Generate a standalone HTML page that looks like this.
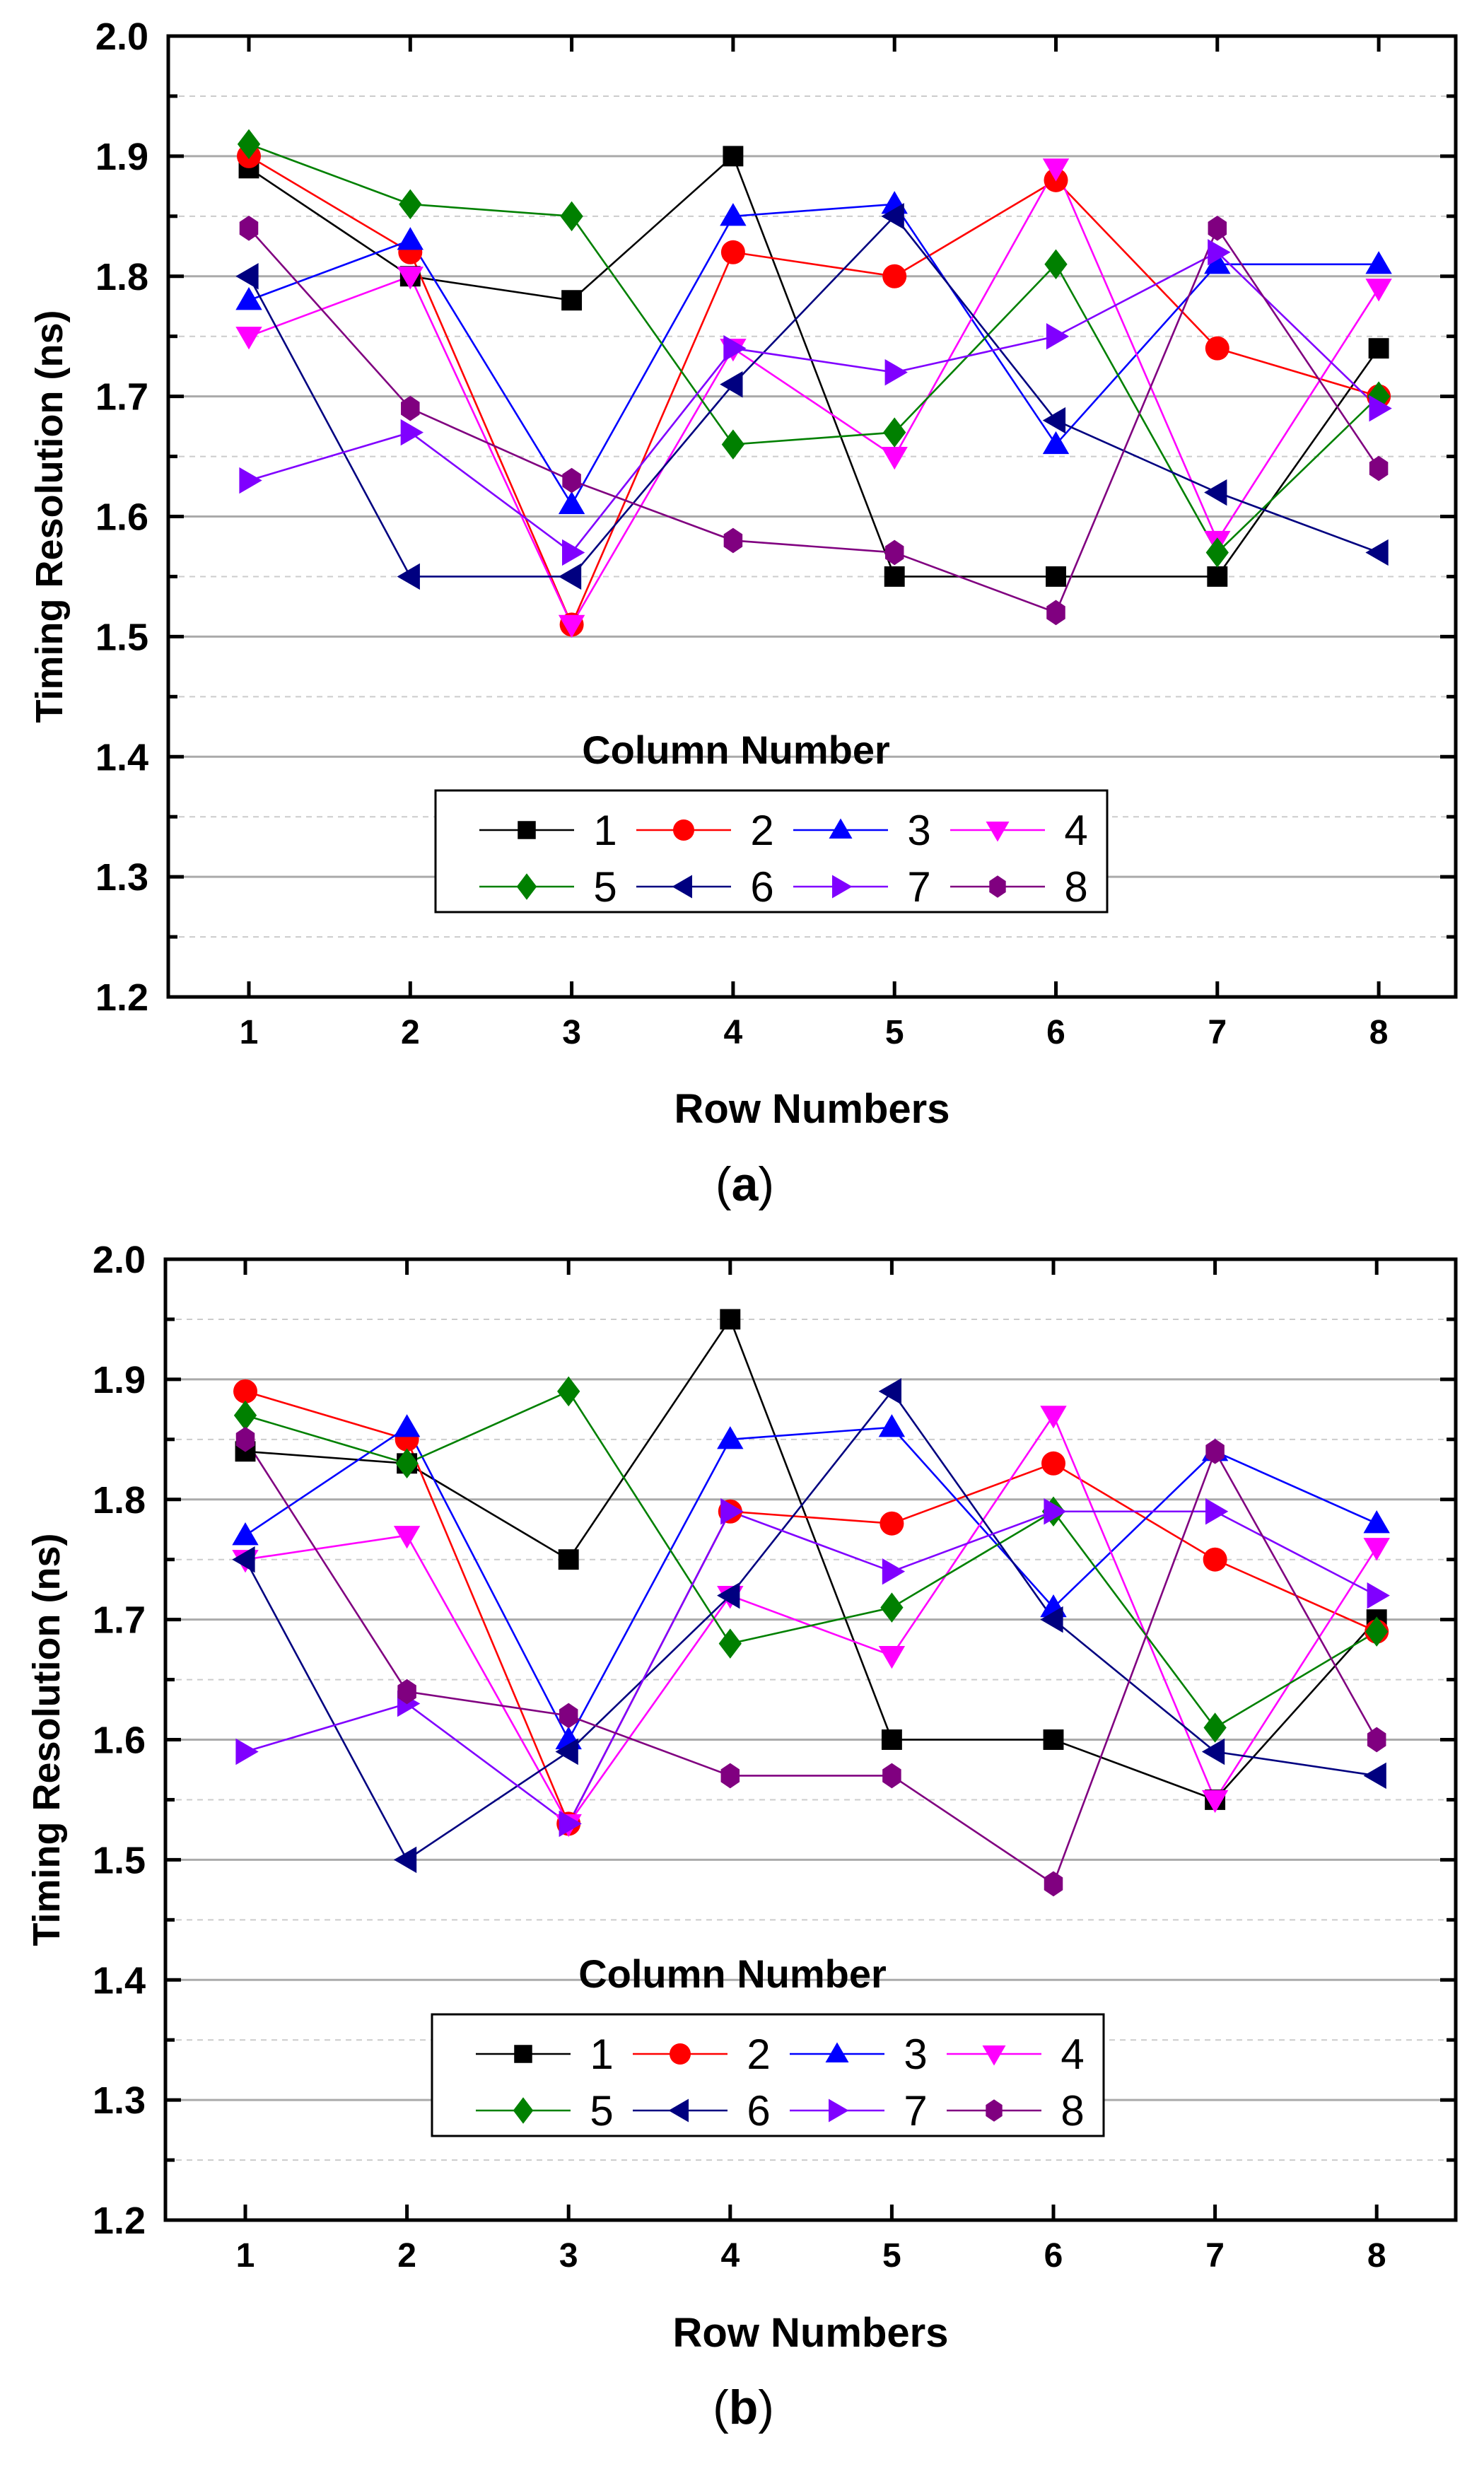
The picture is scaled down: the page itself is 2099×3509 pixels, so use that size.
<!DOCTYPE html>
<html><head><meta charset="utf-8">
<style>
html,body{margin:0;padding:0;background:#fff;}
svg{display:block;}
text{font-family:"Liberation Sans",Arial,sans-serif;}
</style></head>
<body>
<svg id="fig" width="2099" height="3509" viewBox="0 0 2099 3509" xmlns="http://www.w3.org/2000/svg"></svg>
<script>
const rows = [1,2,3,4,5,6,7,8];
const yTicks = ["1.2","1.3","1.4","1.5","1.6","1.7","1.8","1.9","2.0"];
const seriesNames = ["1","2","3","4","5","6","7","8"];
const a1 = [1.89,1.80,1.78,1.90,1.55,1.55,1.55,1.74];
const a2 = [1.90,1.82,1.51,1.82,1.80,1.88,1.74,1.70];
const a3 = [1.78,1.83,1.61,1.85,1.86,1.66,1.81,1.81];
const a4 = [1.75,1.80,1.51,1.74,1.65,1.89,1.58,1.79];
const a5 = [1.91,1.86,1.85,1.66,1.67,1.81,1.57,1.70];
const a6 = [1.80,1.55,1.55,1.71,1.85,1.68,1.62,1.57];
const a7 = [1.63,1.67,1.57,1.74,1.72,1.75,1.82,1.69];
const a8 = [1.84,1.69,1.63,1.58,1.57,1.52,1.84,1.64];
const b1 = [1.84,1.83,1.75,1.95,1.60,1.60,1.55,1.70];
const b2 = [1.89,1.85,1.53,1.79,1.78,1.83,1.75,1.69];
const b3 = [1.77,1.86,1.60,1.85,1.86,1.71,1.84,1.78];
const b4 = [1.75,1.77,1.53,1.72,1.67,1.87,1.55,1.76];
const b5 = [1.87,1.83,1.89,1.68,1.71,1.79,1.61,1.69];
const b6 = [1.75,1.50,1.59,1.72,1.89,1.70,1.59,1.57];
const b7 = [1.59,1.63,1.53,1.79,1.74,1.79,1.79,1.72];
const b8 = [1.85,1.64,1.62,1.57,1.57,1.48,1.84,1.60];

const colors = ["#000000","#ff0000","#0000ff","#ff00ff","#008000","#000080","#8000ff","#800080"];
const shapes = ["square","circle","up","down","diamond","left","right","hex"];
const NS = "http://www.w3.org/2000/svg";
const svg = document.getElementById('fig');
function mk(tag, attrs, parent, txt){
  const e = document.createElementNS(NS, tag);
  for (const k in attrs) e.setAttribute(k, attrs[k]);
  if (txt !== undefined) e.textContent = txt;
  (parent||svg).appendChild(e);
  return e;
}
function marker(shape, cx, cy, r, color, parent){
  let el;
  if (shape==="square") el = mk('rect',{x:cx-r*0.85,y:cy-r*0.85,width:r*1.7,height:r*1.7,fill:color},parent);
  else if (shape==="circle") el = mk('circle',{cx:cx,cy:cy,r:r,fill:color},parent);
  else {
    let pts;
    if (shape==="up") pts=[[0,-r*1.1],[r*1.1,r*0.8],[-r*1.1,r*0.8]];
    else if (shape==="down") pts=[[0,r*1.1],[r*1.1,-r*0.8],[-r*1.1,-r*0.8]];
    else if (shape==="left") pts=[[-r*1.1,0],[r*0.8,-r*1.1],[r*0.8,r*1.1]];
    else if (shape==="right") pts=[[r*1.1,0],[-r*0.8,-r*1.1],[-r*0.8,r*1.1]];
    else if (shape==="diamond") pts=[[0,-r*1.25],[r*0.95,0],[0,r*1.25],[-r*0.95,0]];
    else { pts=[]; for(let i=0;i<6;i++){const a=Math.PI/6+i*Math.PI/3; pts.push([r*0.9*Math.cos(a), r*1.05*Math.sin(a)]);} }
    el = mk('polygon',{points:pts.map(p=>(cx+p[0])+','+(cy+p[1])).join(' '),fill:color},parent);
  }
  return el;
}

function drawChart(cfg){
  const g = mk('g',{});
  
  
  const L=cfg.left,R=cfg.right,T=cfg.top,B=cfg.bottom;
  const yv = v => B - (v-1.2)/0.8*(B-T);
  const xv = r => cfg.x1 + (r-1)*cfg.dx;
  for (let i=1;i<16;i++){
    const v = 1.2+i*0.05, y=yv(v);
    if (i%2===0){ const l=mk('line',{x1:L,x2:R,y1:y,y2:y,stroke:'#aaaaaa','stroke-width':3},g);   }
    else { const l=mk('line',{x1:L,x2:R,y1:y,y2:y,stroke:'#cccccc','stroke-width':2,'stroke-dasharray':'8,7'},g);   }
  }
  for (let i=0;i<=16;i++){
    const y=yv(1.2+i*0.05), len = i%2===0?22:13;
    mk('line',{x1:L,x2:L+len,y1:y,y2:y,stroke:'#000','stroke-width':5},g);
    mk('line',{x1:R,x2:R-len,y1:y,y2:y,stroke:'#000','stroke-width':5},g);
  }
  yTicks.forEach((t,i)=>{
    const tl = mk('text',{x:L-28,y:yv(parseFloat(t))+19,'text-anchor':'end','font-size':54,'font-weight':'bold'},g,t);
    
    
  });
  rows.forEach(r=>{
    const x=xv(r);
    mk('line',{x1:x,x2:x,y1:B,y2:B-22,stroke:'#000','stroke-width':5},g);
    mk('line',{x1:x,x2:x,y1:T,y2:T+22,stroke:'#000','stroke-width':5},g);
    const tl = mk('text',{x:x,y:B+66,'text-anchor':'middle','font-size':48,'font-weight':'bold'},g,String(r));
    
    
  });
  const frame = mk('rect',{x:L,y:T,width:R-L,height:B-T,fill:'none',stroke:'#000','stroke-width':5},g);
  
  
  cfg.data.forEach((arr,si)=>{
    const sg = mk('g',{},g);
    
    
    const pl = mk('polyline',{points:arr.map((v,i)=>xv(rows[i])+','+yv(v)).join(' '),fill:'none',stroke:colors[si],'stroke-width':2.6},sg);
    
    
  });
  cfg.data.forEach((arr,si)=>{
    arr.forEach((v,i)=>{
      const m = marker(shapes[si], xv(rows[i]), yv(v), 17, colors[si], g);
      
      
    });
  });
  const lg = mk('g',{},g);
  
  
  const lt = mk('text',{x:cfg.legX+425,y:cfg.legY-38,'text-anchor':'middle','font-size':56,'font-weight':'bold'},lg,'Column Number');
  
  
  mk('rect',{x:cfg.legX,y:cfg.legY,width:950,height:172,fill:'#fff',stroke:'#000','stroke-width':3},lg);
  seriesNames.forEach((n,si)=>{
    const col=si%4,row=Math.floor(si/4);
    const x0=cfg.legX+62+col*222, y0=cfg.legY+56+row*80;
    const e = mk('g',{},lg);
    
    
    mk('line',{x1:x0,x2:x0+134,y1:y0,y2:y0,stroke:colors[si],'stroke-width':2.6},e);
    marker(shapes[si], x0+67, y0, 15, colors[si], e);
    mk('text',{x:x0+178,y:y0+21,'text-anchor':'middle','font-size':60},e,n);
  });
  const yt = mk('text',{x:0,y:0,'text-anchor':'middle','font-size':54,'font-weight':'bold',transform:'translate('+cfg.yTitleX+','+((T+B)/2)+') rotate(-90)'},g,'Timing Resolution (ns)');
  
  
  const xt = mk('text',{x:(L+R)/2,y:cfg.xTitleY,'text-anchor':'middle','font-size':58,'font-weight':'bold'},g,'Row Numbers');
  
  
  const cap = mk('text',{x:(L+R)/2-95,y:cfg.capY,'text-anchor':'middle','font-size':68,'font-family':'"Liberation Serif",serif'},g);
  
  
  mk('tspan',{},cap,'(');
  mk('tspan',{'font-weight':'bold'},cap,cfg.letter);
  mk('tspan',{},cap,')');
}
drawChart({name:'chart-a',left:238,right:2059,top:51,bottom:1410,x1:352,dx:228.3,
  data:[a1,a2,a3,a4,a5,a6,a7,a8],legX:616,legY:1118,yTitleX:88,xTitleY:1588,capY:1698,letter:'a'});
drawChart({name:'chart-b',left:234,right:2059,top:1781,bottom:3140,x1:347,dx:228.6,
  data:[b1,b2,b3,b4,b5,b6,b7,b8],legX:611,legY:2849,yTitleX:84,xTitleY:3319,capY:3428,letter:'b'});
</script>
</body></html>
